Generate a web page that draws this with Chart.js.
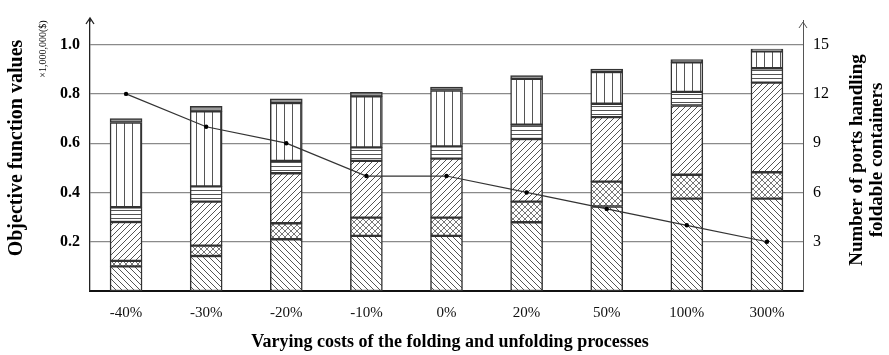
<!DOCTYPE html>
<html>
<head>
<meta charset="utf-8">
<script src="https://cdn.jsdelivr.net/npm/chart.js@4/dist/chart.umd.min.js"></script>
<style>
  html, body { margin: 0; padding: 0; background: #fff; }
  #wrap { width: 889px; height: 355px; position: relative; }
</style>
</head>
<body>
<div id="wrap"><canvas id="c" width="889" height="355"></canvas></div>
<script>
// Cost variation scenarios
const categories = ['-40%', '-30%', '-20%', '-10%', '0%', '20%', '50%', '100%', '300%'];

// Objective function components (x 1,000,000 $), stacked bottom to top
const costA = [0.100, 0.142, 0.210, 0.224, 0.224, 0.279, 0.343, 0.375, 0.375];
const costB = [0.022, 0.042, 0.065, 0.074, 0.074, 0.084, 0.101, 0.097, 0.107];
const costC = [0.158, 0.179, 0.203, 0.230, 0.239, 0.254, 0.262, 0.281, 0.364];
const costD = [0.060, 0.062, 0.050, 0.055, 0.050, 0.058, 0.054, 0.055, 0.058];
const costE = [0.344, 0.304, 0.235, 0.207, 0.227, 0.186, 0.129, 0.120, 0.069];
const costF = [0.016, 0.021, 0.017, 0.016, 0.014, 0.013, 0.012, 0.011, 0.009];

// Number of ports handling foldable containers
const ports = [12, 10, 9, 7, 7, 6, 5, 4, 3];

const leftTicks = [0.2, 0.4, 0.6, 0.8, 1.0];
const rightTicks = [3, 6, 9, 12, 15];

const SERIF = '"Liberation Serif", "Times New Roman", serif';

function hatch(kind) {
  const s = kind === 'vert' ? 8 : (kind === 'horiz' ? 4 : 6);
  const cv = document.createElement('canvas');
  cv.width = s; cv.height = s;
  const g = cv.getContext('2d');
  g.fillStyle = '#fff';
  g.fillRect(0, 0, s, s);
  g.lineWidth = 1;
  g.strokeStyle = kind === 'cross' ? '#777' : '#555';
  g.beginPath();
  if (kind === 'back' || kind === 'cross') {
    g.moveTo(-1, -1); g.lineTo(s + 1, s + 1);
    g.moveTo(-1, s - 1); g.lineTo(1, s + 1);
    g.moveTo(s - 1, -1); g.lineTo(s + 1, 1);
  }
  if (kind === 'fwd' || kind === 'cross') {
    g.moveTo(-1, s + 1); g.lineTo(s + 1, -1);
    g.moveTo(-1, 1); g.lineTo(1, -1);
    g.moveTo(s - 1, s + 1); g.lineTo(s + 1, s - 1);
  }
  if (kind === 'horiz') {
    g.moveTo(0, 2.5); g.lineTo(s, 2.5);
  }
  if (kind === 'vert') {
    g.moveTo(4.5, 0); g.lineTo(4.5, s);
  }
  g.stroke();
  return g.createPattern(cv, 'repeat');
}

const segments = [
  { data: costA, fill: hatch('back') },
  { data: costB, fill: hatch('cross') },
  { data: costC, fill: hatch('fwd') },
  { data: costD, fill: hatch('horiz') },
  { data: costE, fill: hatch('vert') },
  { data: costF, fill: '#9a9a9a' }
];

const barSets = segments.map(s => ({
  type: 'bar',
  data: s.data.map((v, i) => ({ x: i, y: v })),
  backgroundColor: s.fill,
  borderColor: '#333',
  borderWidth: 1.5,
  borderSkipped: false,
  barThickness: 32,
  yAxisID: 'y',
  stack: 'cost',
  order: 1
}));

const lineSet = {
  type: 'line',
  data: ports.map((v, i) => ({ x: i, y: v })),
  borderColor: '#333',
  borderWidth: 1.2,
  pointRadius: 2.2,
  pointBackgroundColor: '#000',
  pointBorderColor: '#000',
  pointBorderWidth: 0,
  tension: 0,
  yAxisID: 'y2',
  stack: 'ports',
  order: 0
};

// Axis arrows and rotated axis titles
const decor = {
  id: 'decor',
  afterDraw(chart) {
    const ctx = chart.ctx;
    const a = chart.chartArea;
    ctx.save();
    ctx.strokeStyle = '#222';
    ctx.lineWidth = 1.3;
    const arrow = (x, tip) => {
      ctx.beginPath();
      ctx.moveTo(x, a.top + 2); ctx.lineTo(x, tip);
      ctx.moveTo(x - 4, tip + 6); ctx.lineTo(x, tip); ctx.lineTo(x + 4, tip + 6);
      ctx.stroke();
    };
    arrow(a.left, 18);
    ctx.strokeStyle = '#555';
    ctx.lineWidth = 1;
    arrow(a.right, 22);

    ctx.fillStyle = '#000';
    ctx.textAlign = 'center';
    ctx.textBaseline = 'middle';

    const vtext = (txt, x, y, font) => {
      ctx.save();
      ctx.translate(x, y);
      ctx.rotate(-Math.PI / 2);
      ctx.font = font;
      ctx.fillText(txt, 0, 0);
      ctx.restore();
    };
    vtext('Objective function values', 17, 148, 'bold 20px ' + SERIF);
    vtext('\u00d71,000,000($)', 43, 49, '10px ' + SERIF);
    vtext('Number of ports handling', 857, 160, 'bold 19px ' + SERIF);
    vtext('foldable containers', 877, 160, 'bold 19px ' + SERIF);

    ctx.font = 'bold 18px ' + SERIF;
    ctx.fillText('Varying costs of the folding and unfolding processes', 450, 342);
    ctx.restore();
  }
};

new Chart(document.getElementById('c'), {
  data: { datasets: [...barSets, lineSet] },
  options: {
    responsive: false,
    animation: false,
    layout: { padding: { top: 20, left: 0, right: 0, bottom: 0 } },
    plugins: { legend: { display: false }, tooltip: { enabled: false } },
    scales: {
      x: {
        type: 'linear',
        offset: false,
        min: -0.45,
        max: 8.45,
        stacked: true,
        afterBuildTicks: s => { s.ticks = categories.map((_, i) => ({ value: i })); },
        afterFit: s => { s.height = 64; },
        grid: { display: false, drawTicks: false },
        border: { color: '#111', width: 2 },
        ticks: {
          padding: 13,
          color: '#111',
          autoSkip: false,
          maxRotation: 0,
          font: { family: SERIF, size: 15 },
          callback: v => categories[v] ?? ''
        }
      },
      y: {
        position: 'left',
        stacked: true,
        min: 0,
        max: 1.1,
        z: 1,
        afterBuildTicks: s => { s.ticks = leftTicks.map(v => ({ value: v })); },
        afterFit: s => { s.width = 90; },
        grid: { color: '#8a8a8a', lineWidth: 1.3, drawTicks: false },
        border: { color: '#222', width: 1.3 },
        ticks: {
          padding: 10,
          color: '#000',
          font: { family: SERIF, size: 16, weight: 'bold' },
          callback: v => v.toFixed(1)
        }
      },
      y2: {
        position: 'right',
        min: 0,
        max: 16.5,
        afterBuildTicks: s => { s.ticks = rightTicks.map(v => ({ value: v })); },
        afterFit: s => { s.width = 86; },
        grid: { display: false, drawTicks: false },
        border: { color: '#555', width: 1 },
        ticks: {
          padding: 10,
          color: '#000',
          font: { family: SERIF, size: 16 },
          callback: v => String(v)
        }
      }
    }
  },
  plugins: [decor]
});
</script>
</body>
</html>
